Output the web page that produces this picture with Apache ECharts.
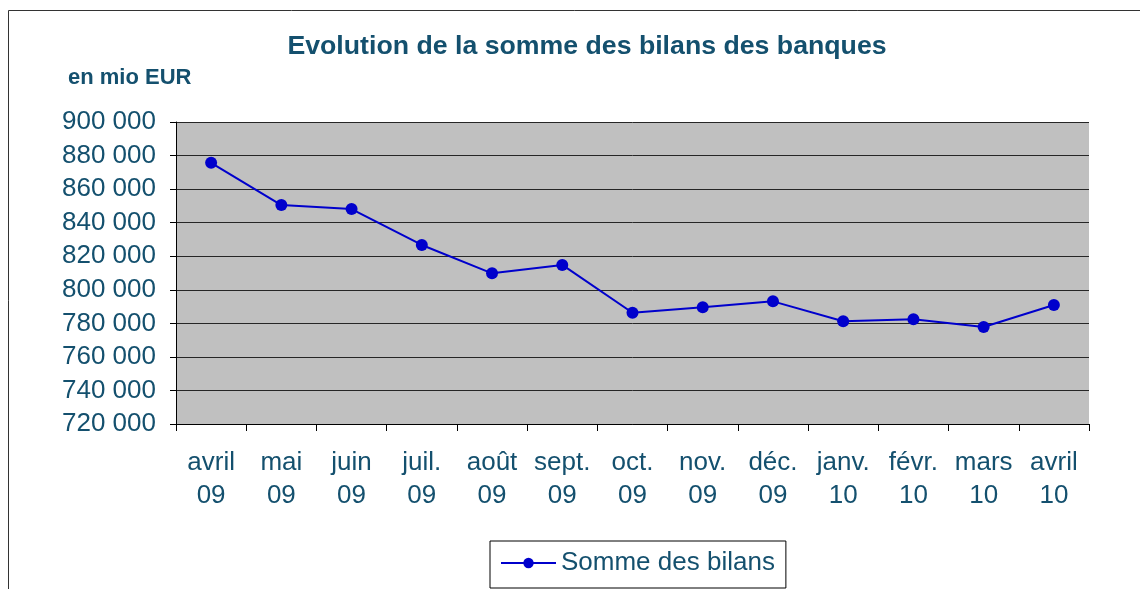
<!DOCTYPE html>
<html>
<head>
<meta charset="utf-8">
<script src="https://cdn.jsdelivr.net/npm/echarts@6/dist/echarts.min.js"></script>
<style>
  html, body { margin: 0; padding: 0; background: #fff; }
  #main { width: 1140px; height: 589px; }
</style>
</head>
<body>
<div id="main"></div>
<script>
// monthly data, mio EUR
var months = ["avril\n09", "mai\n09", "juin\n09", "juil.\n09", "août\n09", "sept.\n09", "oct.\n09",
  "nov.\n09", "déc.\n09", "janv.\n10", "févr.\n10", "mars\n10", "avril\n10"];
var bilans = [875700, 850500, 848100, 826700, 809800, 814800, 786300,
  789600, 793100, 781200, 782400, 777800, 790900];

var textColor = "#14506e";
var font = "Liberation Sans, Arial, sans-serif";

var chartDom = document.getElementById("main");
var myChart = echarts.init(chartDom, null, { renderer: "canvas" });

var option = {
  animation: false,
  title: [
    {
      text: "Evolution de la somme des bilans des banques",
      left: 582,
      top: 28,
      textAlign: "center",
      textStyle: { color: textColor, fontSize: 26.7, fontWeight: "bold", fontFamily: font },
    },
    {
      text: "en mio EUR",
      left: 63,
      top: 62,
      textStyle: { color: textColor, fontSize: 22, fontWeight: "bold", fontFamily: font },
    },
  ],
  graphic: [
    {
      type: "rect",
      silent: true,
      z: -1,
      shape: { x: 8.5, y: 10.5, width: 1200, height: 700 },
      style: { fill: "none", stroke: "#333", lineWidth: 1 },
    },
  ],
  legend: {
    data: ["Somme des bilans"],
    left: 490,
    top: 541,
    padding: [9, 11, 12, 10],
    itemWidth: 55,
    itemHeight: 13,
    itemGap: 6,
    backgroundColor: "#fff",
    borderColor: "#000",
    borderWidth: 1,
    borderRadius: 0,
    textStyle: { color: textColor, fontSize: 26, fontFamily: font },
  },
  grid: {
    left: 176,
    right: 51,
    top: 122,
    bottom: 165,
    show: true,
    backgroundColor: "#c0c0c0",
    borderWidth: 0,
  },
  xAxis: {
    type: "category",
    data: months,
    boundaryGap: true,
    axisLine: { show: true, lineStyle: { color: "#000", width: 1 } },
    axisTick: { show: true, length: 7, lineStyle: { color: "#000" } },
    axisLabel: {
      color: textColor,
      fontSize: 26,
      fontFamily: font,
      lineHeight: 33,
      margin: 22,
      interval: 0,
    },
    splitLine: { show: false },
  },
  yAxis: {
    type: "value",
    min: 720000,
    max: 900000,
    interval: 20000,
    axisLine: { show: true, lineStyle: { color: "#000", width: 1 } },
    axisTick: { show: true, length: 6, lineStyle: { color: "#000" } },
    axisLabel: {
      color: textColor,
      fontSize: 26,
      fontFamily: font,
      margin: 20,
      formatter: function (v) {
        return String(v).replace(/\B(?=(\d{3})+(?!\d))/g, " ");
      },
    },
    splitLine: { show: true, lineStyle: { color: "#262626", width: 1 } },
  },
  series: [
    {
      name: "Somme des bilans",
      type: "line",
      data: bilans,
      symbol: "circle",
      symbolSize: 12,
      showSymbol: true,
      itemStyle: { color: "#0000cc" },
      lineStyle: { color: "#0000cc", width: 2 },
    },
  ],
};

option && myChart.setOption(option);
</script>
</body>
</html>
